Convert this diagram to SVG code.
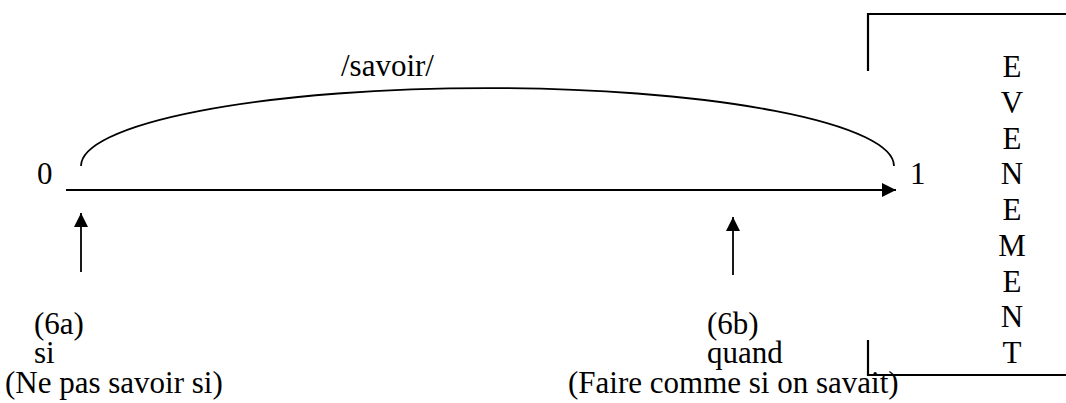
<svg xmlns="http://www.w3.org/2000/svg" width="1066" height="403" viewBox="0 0 1066 403">
<style>
.t{font-family:'Liberation Serif','Times New Roman',serif;font-size:31px;fill:#000}
.ln{fill:none;stroke:#000;stroke-width:1.8}
.br{fill:none;stroke:#000;stroke-width:2.2}
.ev{text-anchor:middle}
</style>
<defs>
<marker id="ah" viewBox="0 0 10 10" refX="10" refY="5" markerWidth="14" markerHeight="14" markerUnits="userSpaceOnUse" orient="auto">
<path d="M0,0 L10,5 L0,10 z" fill="#000"/>
</marker>
</defs>
<g id="connectors">
<path class="ln" d="M66,190 H896" marker-end="url(#ah)"/>
<path class="ln" d="M81,166 A406.5 78 0 0 1 894,166"/>
<path class="ln" d="M81,272 V213" marker-end="url(#ah)"/>
<path class="ln" d="M733,275 V217" marker-end="url(#ah)"/>
</g>
<g id="bracket">
<path class="br" d="M868,71 V14 H1066"/>
<path class="br" d="M868,340 V375 H1066"/>
</g>
<g class="t">
<g id="node-0"><text x="37" y="184">0</text></g>
<g id="node-1"><text x="910" y="184">1</text></g>
<g id="label-savoir"><text x="341" y="76">/savoir/</text></g>
<g id="node-6a">
<text x="34" y="334">(6a)</text>
<text x="34" y="363">si</text>
<text x="5" y="393">(Ne pas savoir si)</text>
</g>
<g id="node-6b">
<text x="707" y="334">(6b)</text>
<text x="707" y="363">quand</text>
<text x="568" y="393">(Faire comme si on savait)</text>
</g>
<g id="evenement" class="ev">
<text x="1012" y="77">E</text>
<text x="1012" y="112.75">V</text>
<text x="1012" y="148.5">E</text>
<text x="1012" y="184.25">N</text>
<text x="1012" y="220">E</text>
<text x="1012" y="255.75">M</text>
<text x="1012" y="291.5">E</text>
<text x="1012" y="327.25">N</text>
<text x="1012" y="363">T</text>
</g>
</g>
</svg>
